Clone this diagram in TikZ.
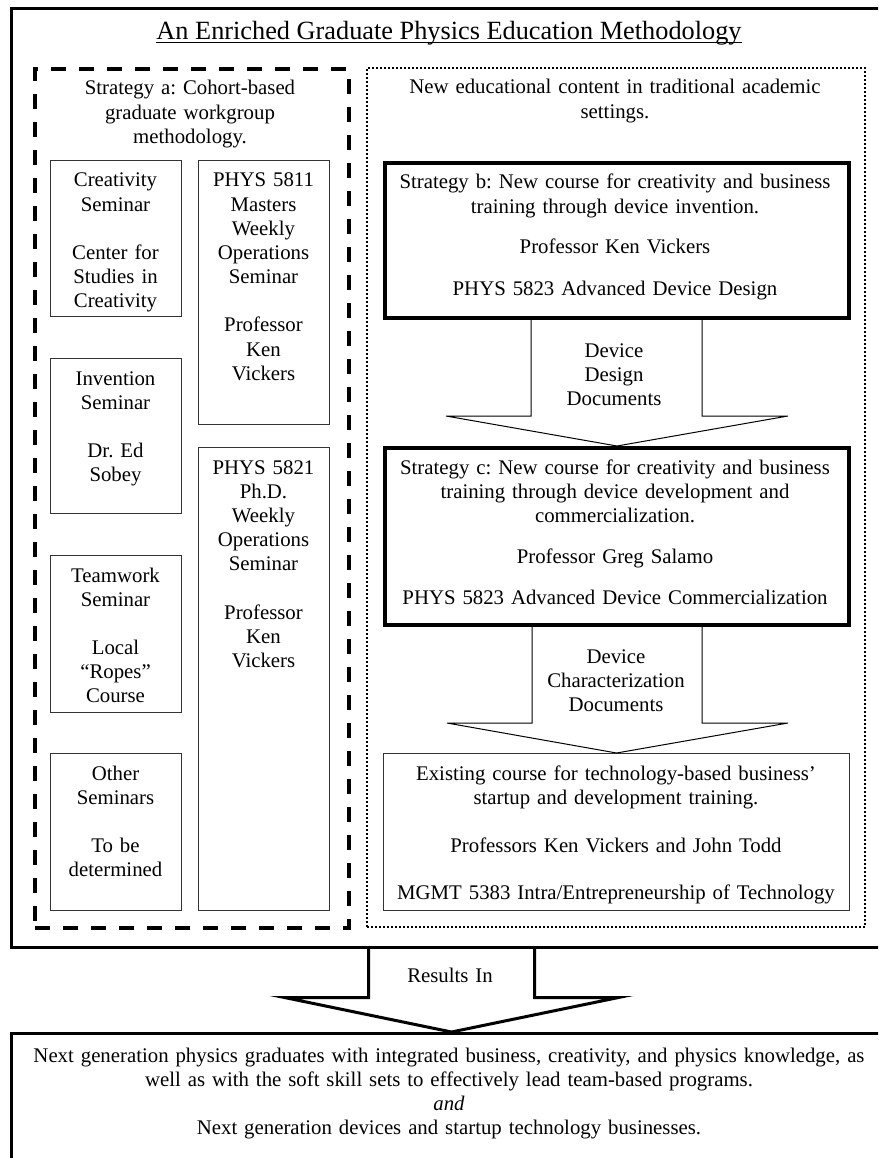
\documentclass[tikz,border=0pt]{standalone}
\usepackage{fontspec}
\setmainfont{Liberation Serif}
\usetikzlibrary{calc}
\frenchspacing
\newcommand\dgbody{\fontsize{20.8pt}{24.2pt}\selectfont}
\newcommand\dgtitle{\fontsize{26.3pt}{30pt}\selectfont}
\begin{document}
\frenchspacing
\begin{tikzpicture}[x=1pt,y=-1pt,
  txt/.style={text width=#1, align=center, inner sep=0pt, anchor=base, font=\dgbody},
  txt/.default=125pt,
  sbox/.style={draw=black!80, line width=1.1pt, inner sep=0pt, anchor=north west},
  kbox/.style={draw=black, line width=4pt, inner sep=0pt, anchor=north west},
  outerframe/.style={draw=black, line width=3pt, inner sep=0pt, anchor=north west},
  barrow/.style={draw=black, line width=1pt, line join=miter},
  bigarrow/.style={draw=black, line width=3pt, line join=miter},
  dashbox/.style={draw=black, line width=4pt, dash pattern=on 15pt off 13pt, inner sep=0pt, anchor=north west},
  dotbox/.style={draw=black, line width=2pt, dash pattern=on 2pt off 2pt, inner sep=0pt, anchor=north west},
]
\useasboundingbox (0,0) rectangle (878,1158);
\fill[white] (0,0) rectangle (878,1158);
\clip (0,0) rectangle (878,1158);

% outer frame and title
\node[outerframe, minimum width=880pt, minimum height=939pt] (outer) at (10,7) {};
\node[font=\dgtitle, inner sep=0pt, anchor=base] (title) at (449,40) {An Enriched Graduate Physics Education Methodology};
\draw[line width=1.3pt] ([yshift=-2.5pt]title.base west) -- ([yshift=-2.5pt]title.base east);

% strategy a (dashed)
\node[dashbox, minimum width=314pt, minimum height=859pt] (sa) at (33,67) {};
\node[txt=300pt] (saT) at (190,95) {Strategy a: Cohort-based\\graduate workgroup\\methodology.};

\node[sbox, minimum width=131pt, minimum height=156pt] (cre) at (50,160) {};
\node[txt] (creT) at (115.5,187) {Creativity\\Seminar\\[24pt]Center for\\Studies in\\Creativity};
\node[sbox, minimum width=131pt, minimum height=155pt] (inv) at (50,358) {};
\node[txt] (invT) at (115.5,385) {Invention\\Seminar\\[24pt]Dr. Ed\\Sobey};
\node[sbox, minimum width=131pt, minimum height=157pt] (tea) at (50,555) {};
\node[txt] (teaT) at (115.5,582) {Teamwork\\Seminar\\[24pt]Local\\“Ropes”\\Course};
\node[sbox, minimum width=131pt, minimum height=157pt] (oth) at (50,753) {};
\node[txt] (othT) at (115.5,780) {Other\\Seminars\\[24pt]To be\\determined};

\node[sbox, minimum width=131pt, minimum height=264pt] (pm) at (198,160) {};
\node[txt] (pmT) at (263.5,187) {PHYS 5811\\Masters\\Weekly\\Operations\\Seminar\\[24pt]Professor\\Ken\\Vickers};
\node[sbox, minimum width=131pt, minimum height=463pt] (pp) at (198,447) {};
\node[txt] (ppT) at (263.5,474) {PHYS 5821\\Ph.D.\\Weekly\\Operations\\Seminar\\[24pt]Professor\\Ken\\Vickers};

% new content (dotted)
\node[dotbox, minimum width=498pt, minimum height=859pt] (nc) at (366,67) {};
\node[txt=480pt] (ncT) at (615,94) {New educational content in traditional academic\\settings.};

\node[kbox, minimum width=464pt, minimum height=155pt] (sb) at (383,161) {};
\node[txt=455pt] (sbT) at (615,189) {Strategy b: New course for creativity and business\\training through device invention.\\[16pt]Professor Ken Vickers\\[18pt]PHYS 5823 Advanced Device Design};

\node[kbox, minimum width=464pt, minimum height=177pt] (sc) at (383,446) {};
\node[txt=455pt] (scT) at (615,474) {Strategy c: New course for creativity and business\\training through device development and\\commercialization.\\[17pt]Professor Greg Salamo\\[17pt]PHYS 5823 Advanced Device Commercialization};

\node[sbox, minimum width=466pt, minimum height=157pt] (ex) at (383,753) {};
\node[txt=460pt] (exT) at (616,780) {Existing course for technology-based business’\\startup and development training.\\[24pt]Professors Ken Vickers and John Todd\\[23pt]MGMT 5383 Intra/Entrepreneurship of Technology};

% block arrows
\draw[barrow] ($(sb.south)+(-86,0)$) -- ++(0,96) -- ++(-85,0) -- (sc.north) -- ($(sb.south)+(171,96)$) -- ++(-86,0) -- ++(0,-96);
\node[txt=170pt] (a1T) at (614,357) {Device\\Design\\Documents};

\draw[barrow] ($(sc.south)+(-85,0)$) -- ++(0,96) -- ++(-85,0) -- (ex.north) -- ($(sc.south)+(171,96)$) -- ++(-86,0) -- ++(0,-96);
\node[txt=170pt] (a2T) at (616,663) {Device\\Characterization\\Documents};

% results
\node[outerframe, minimum width=880pt, minimum height=200pt] (res) at (10,1032) {};
\draw[bigarrow] ($(outer.south)+(-83,0)$) -- ++(0,48.5) -- ++(-84,0) -- (res.north) -- ($(outer.south)+(167,48.5)$) -- ++(-84,0) -- ++(0,-48.5);
\node[txt=166pt] (riT) at (450,982) {Results In};

\node[txt=845pt] (resT) at (449,1062) {Next generation physics graduates with integrated business, creativity, and physics knowledge, as\\well as with the soft skill sets to effectively lead team-based programs.\\\textit{and}\\Next generation devices and startup technology businesses.};
\end{tikzpicture}
\end{document}
